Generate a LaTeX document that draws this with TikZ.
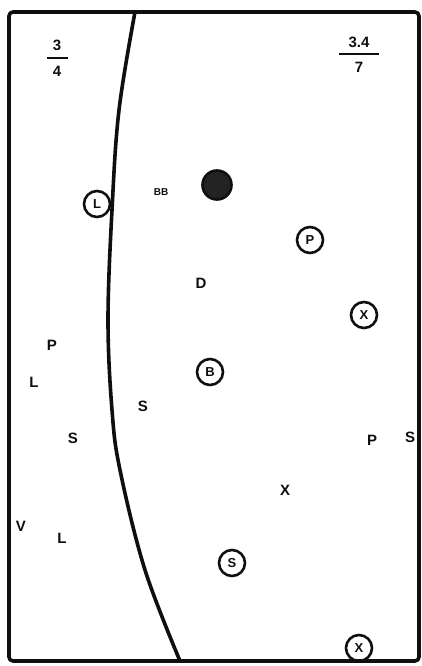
\documentclass[tikz,border=0pt]{standalone}
\usepackage{fontspec}
\setmainfont{Liberation Sans}
\usetikzlibrary{positioning}
\definecolor{ink}{RGB}{15,15,15}
\definecolor{blotfill}{RGB}{35,35,35}
\tikzset{
  lett/.style={font=\fontsize{15}{15}\selectfont\bfseries, text=ink, inner sep=0pt},
  ring/.style={circle, draw=ink, line width=2.6pt, minimum size=26pt, inner sep=0pt,
    font=\fontsize{13}{13}\selectfont\bfseries, text=ink},
  blot/.style={circle, draw=ink, fill=blotfill, line width=2.6pt, minimum size=29pt, inner sep=0pt},
  tiny/.style={font=\fontsize{10}{10}\selectfont\bfseries, text=ink, inner sep=0pt},
  edgeline/.style={draw=ink, line width=3.6pt, line join=round},
  fracbar/.style={draw=ink, line width=2.6pt},
}
\begin{document}
\begin{tikzpicture}[x=1pt, y=-1pt]
  \useasboundingbox (0,0) rectangle (422,666);
  % frame and boundary line
  \draw[edgeline, rounded corners=4pt] (9,12) rectangle (419,661);
  \draw[edgeline] plot[smooth, tension=0.6] coordinates
    {(135,12) (119,110) (112,210) (108,320) (112,410) (120,470) (145,570) (180,661)};
  % fractions
  \node[lett] (numA) at (57,45) {3};
  \node[lett] (denA) at (57,71) {4};
  \draw[fracbar] (47,58) -- (68,58);
  \node[lett] (numB) at (359,42) {3.4};
  \node[lett] (denB) at (359,67) {7};
  \draw[fracbar] (339,54) -- (379,54);
  % circled letters
  \node[ring] (ringL) at (97,204) {L};
  \node[tiny] (bb) at (161,192) {BB};
  \node[blot] (blotA) at (217,185) {};
  \node[ring] (ringP) at (310,240) {P};
  \node[ring] (ringX) at (364,315) {X};
  \node[ring] (ringB) at (210,372) {B};
  \node[ring] (ringS) at (232,563) {S};
  \node[ring] (ringX2) at (359,648) {X};
  % plain letters
  \node[lett] (letD) at (201,283) {D};
  \node[lett] (letP) at (52,345) {P};
  \node[lett] (letL) at (34,382) {L};
  \node[lett] (letS) at (143,406) {S};
  \node[lett] (letS2) at (73,438) {S};
  \node[lett] (letP2) at (372,440) {P};
  \node[lett] (letS3) at (410,437) {S};
  \node[lett] (letX) at (285,490) {X};
  \node[lett] (letV) at (21,526) {V};
  \node[lett] (letL2) at (62,538) {L};
\end{tikzpicture}
\end{document}
